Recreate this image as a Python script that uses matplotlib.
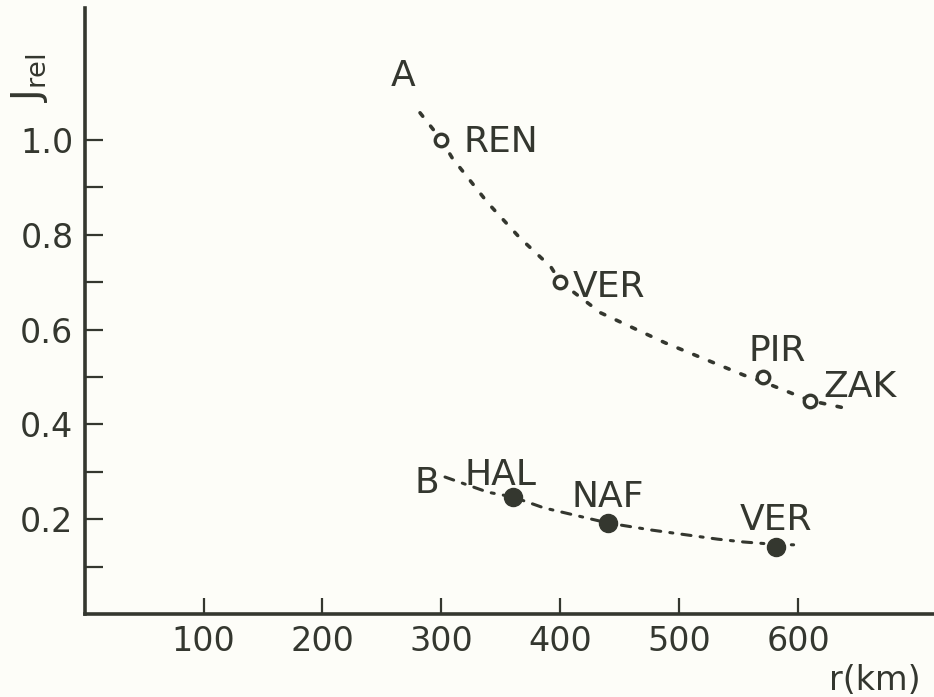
import matplotlib
matplotlib.use('Agg')
import matplotlib.pyplot as plt

# station points (r in km, relative intensity)
a_names = ['REN', 'VER', 'PIR', 'ZAK']
a_r = [300, 400, 570, 610]
a_j = [1.0, 0.70, 0.50, 0.45]

b_names = ['HAL', 'NAF', 'VER']
b_r = [360, 440, 581]
b_j = [0.247, 0.192, 0.141]

# hand drawn curves
curve_a_r = [282, 300, 309, 339, 366, 392, 400, 434, 488, 554, 570, 610, 638]
curve_a_j = [1.057, 1.0, 0.962, 0.867, 0.793, 0.732, 0.70, 0.635, 0.572, 0.504, 0.49, 0.45, 0.435]
curve_b_r = [303, 339, 360, 386, 440, 477, 532, 554, 580, 596]
curve_b_j = [0.289, 0.257, 0.247, 0.224, 0.192, 0.177, 0.158, 0.152, 0.147, 0.146]

x_ticks = [100, 200, 300, 400, 500, 600]
y_major = [0.2, 0.4, 0.6, 0.8, 1.0]
y_labels = ['0.2', '0.4', '0.6', '0.8', '1.0']
y_minor = [0.1, 0.3, 0.5, 0.7, 0.9]

ink = '#34372f'
paper = '#fdfdf8'

plt.rcParams['font.family'] = 'DejaVu Sans'
plt.rcParams['mathtext.fontset'] = 'dejavusans'

fig = plt.figure(figsize=(9.34, 6.97), dpi=100, facecolor=paper)
ax = fig.add_axes([0.0905, 0.119, 0.9095, 0.8695], facecolor=paper)

ax.set_xlim(0, 714)
ax.set_ylim(0, 1.278)

for s in ['top', 'right']:
    ax.spines[s].set_visible(False)
for s in ['left', 'bottom']:
    ax.spines[s].set_linewidth(2.6)
    ax.spines[s].set_color(ink)

ax.set_xticks(x_ticks)
ax.set_xticklabels([str(t) for t in x_ticks])
ax.set_yticks(y_major)
ax.set_yticklabels(y_labels)
ax.set_yticks(y_minor, minor=True)
ax.tick_params(axis='both', which='both', direction='in', width=1.6, color=ink,
               labelcolor=ink, labelsize=24)
ax.tick_params(axis='y', which='both', length=13, pad=8)
ax.tick_params(axis='x', length=11.5, pad=8)

# curves
ax.plot(curve_a_r, curve_a_j, linestyle=(0, (1.2, 3.5)), color=ink, lw=2.6,
        solid_capstyle='round', dash_capstyle='round')
ax.plot(curve_b_r, curve_b_j, linestyle=(0, (3, 3, 1, 3)), color=ink, lw=2.2,
        dash_capstyle='round')

# points
ax.plot(a_r, a_j, 'o', ms=9, mfc=paper, mec=ink, mew=2.4)
ax.plot(b_r, b_j, 'o', ms=13, mfc=ink, mec=ink)

# labels (offsets in pixels from the marks)
a_off = [(22, -2, 'left'), (12, -5, 'left'), (15, 26, 'center'), (13, 14, 'left')]
for name, r, j, (dx, dy, ha) in zip(a_names, a_r, a_j, a_off):
    ax.annotate(name, (r, j), xytext=(dx, dy), textcoords='offset pixels',
                ha=ha, va='center', fontsize=26, color=ink)

b_off = [(-12, 22), (0, 26), (0, 27)]
for name, r, j, (dx, dy) in zip(b_names, b_r, b_j, b_off):
    ax.annotate(name, (r, j), xytext=(dx, dy), textcoords='offset pixels',
                ha='center', va='center', fontsize=26, color=ink)

ax.annotate('A', (curve_a_r[0], curve_a_j[0]), xytext=(-17, 37), textcoords='offset pixels',
            ha='center', va='center', fontsize=26, color=ink)
ax.annotate('B', (curve_b_r[0], curve_b_j[0]), xytext=(-18, -6), textcoords='offset pixels',
            ha='center', va='center', fontsize=26, color=ink)

# axis labels
fig.text(30 / 934, 1 - 78 / 697, r'$\mathregular{J_{rel}}$', rotation=90, ha='center', va='center',
         fontsize=28, color=ink)
fig.text(875 / 934, 1 - 680 / 697, 'r(km)', ha='center', va='center',
         fontsize=24, color=ink)

fig.savefig('out.png', dpi=100, facecolor=paper)
